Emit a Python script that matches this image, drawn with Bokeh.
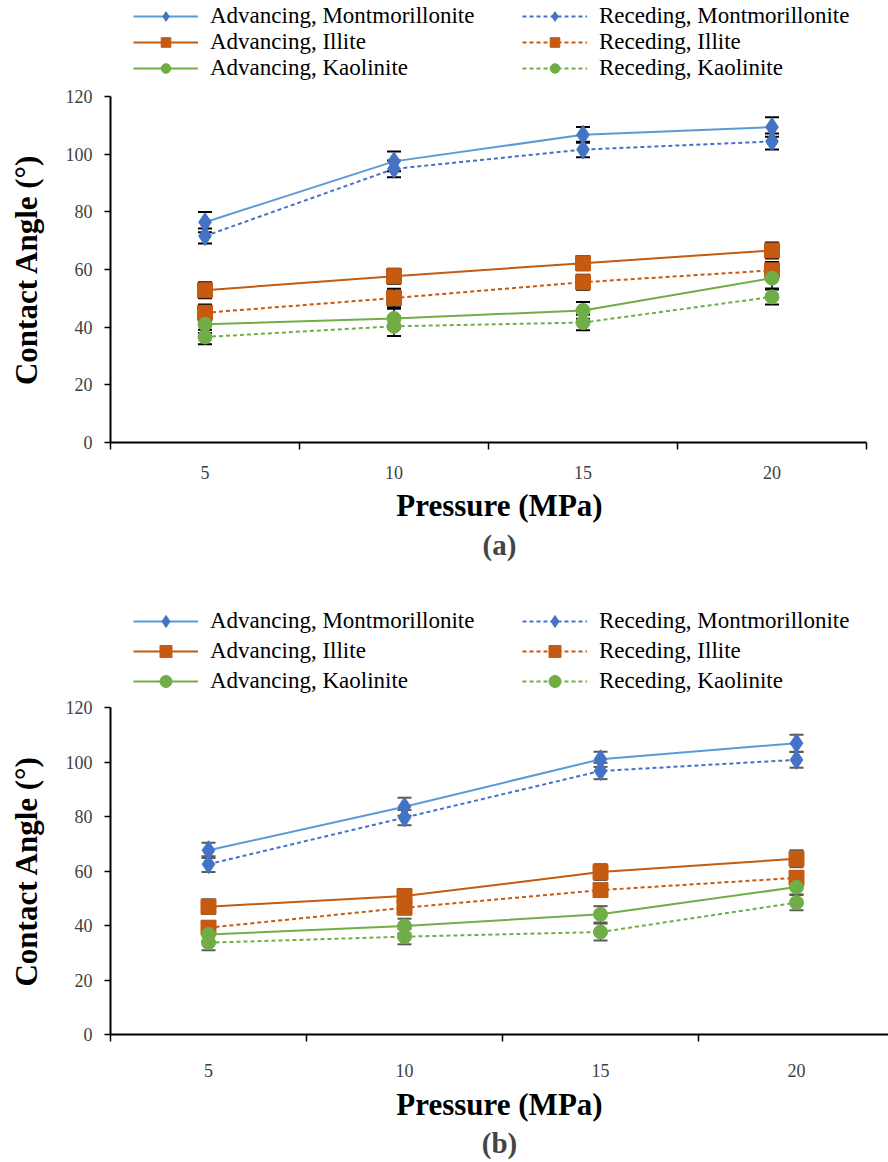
from bokeh.plotting import figure
from bokeh.models import (Range1d, FixedTicker, Legend, LegendItem, Whisker,
                          TeeHead, ColumnDataSource, Title)
from bokeh.layouts import column
from bokeh.embed import file_html
from bokeh.resources import INLINE

# ---------------- data ----------------
pressure_labels = ["5", "10", "15", "20"]
series_names = ["Advancing, Montmorillonite", "Receding, Montmorillonite",
                "Advancing, Illite", "Receding, Illite",
                "Advancing, Kaolinite", "Receding, Kaolinite"]

# panel (a)
a_adv_mont = [76.4, 97.5, 106.7, 109.4]
a_rec_mont = [71.6, 94.9, 101.6, 104.4]
a_adv_illite = [52.8, 57.7, 62.2, 66.6]
a_rec_illite = [45.0, 50.1, 55.6, 59.7]
a_adv_kaol = [41.0, 43.0, 45.8, 57.0]
a_rec_kaol = [36.6, 40.3, 41.6, 50.5]
a_err_adv_mont = [3.5, 3.4, 2.7, 3.4]
a_err_rec_mont = [2.6, 2.9, 2.7, 2.8]
a_err_adv_illite = [2.8, 2.6, 2.5, 2.8]
a_err_rec_illite = [2.9, 3.2, 2.6, 2.9]
a_err_adv_kaol = [3.0, 3.4, 2.9, 3.6]
a_err_rec_kaol = [2.5, 3.4, 2.7, 2.6]

# panel (b)
b_adv_mont = [67.6, 83.6, 101.0, 106.9]
b_rec_mont = [62.5, 79.6, 96.7, 100.8]
b_adv_illite = [46.9, 50.8, 59.6, 64.5]
b_rec_illite = [39.2, 46.5, 53.0, 57.5]
b_adv_kaol = [36.7, 39.8, 44.1, 54.1]
b_rec_kaol = [33.7, 35.9, 37.6, 48.4]
b_err_adv_mont = [2.8, 3.3, 2.8, 3.1]
b_err_rec_mont = [2.9, 2.8, 3.0, 2.9]
b_err_adv_illite = [2.7, 2.5, 2.9, 3.1]
b_err_rec_illite = [2.4, 2.2, 2.2, 2.5]
b_err_adv_kaol = [2.6, 2.7, 3.0, 2.7]
b_err_rec_kaol = [2.8, 2.8, 3.1, 2.8]

panel_a_values = [a_adv_mont, a_rec_mont, a_adv_illite, a_rec_illite, a_adv_kaol, a_rec_kaol]
panel_a_errors = [a_err_adv_mont, a_err_rec_mont, a_err_adv_illite, a_err_rec_illite, a_err_adv_kaol, a_err_rec_kaol]
panel_b_values = [b_adv_mont, b_rec_mont, b_adv_illite, b_rec_illite, b_adv_kaol, b_rec_kaol]
panel_b_errors = [b_err_adv_mont, b_err_rec_mont, b_err_adv_illite, b_err_rec_illite, b_err_adv_kaol, b_err_rec_kaol]

# ---------------- styles ----------------
FONT = "Liberation Serif"
W = 888
BL = 110
line_colors = ["#5B9BD5", "#4472C4", "#C55A11", "#C55A11", "#70AD47", "#70AD47"]
marker_colors = ["#4472C4", "#4472C4", "#C55A11", "#C55A11", "#70AD47", "#70AD47"]
markers = ["diamond", "diamond", "square", "square", "circle", "circle"]
marker_sizes = [19, 19, 15, 15, 14, 14]
dashes = ["solid", "4 3", "solid", "4 3", "solid", "4 3"]


def make_legend_fig(values, height, bottom_offset, pitch):
    x = list(range(1, len(pressure_labels) + 1))
    # y range placed away from the data: the series only feed the legend glyphs here
    lf = figure(width=W, height=height, x_range=Range1d(0, 1), y_range=Range1d(-20, -10),
                output_backend="svg", toolbar_location=None,
                x_axis_location=None, y_axis_location=None,
                min_border_left=BL, min_border_right=0,
                min_border_top=0, min_border_bottom=0)
    lf.xgrid.visible = False
    lf.ygrid.visible = False
    lf.outline_line_color = None
    rs = []
    for i, vals in enumerate(values):
        src = ColumnDataSource(dict(x=x, y=vals))
        lr = lf.line("x", "y", source=src, line_color=line_colors[i],
                     line_width=2, line_dash=dashes[i])
        sr = lf.scatter("x", "y", source=src, marker=markers[i],
                        size=marker_sizes[i], fill_color=marker_colors[i],
                        line_color=marker_colors[i])
        rs.append((lr, sr))
    for col, xloc in ((0, 23), (1, 412)):
        items = [LegendItem(label=series_names[i], renderers=list(rs[i]))
                 for i in range(col, len(series_names), 2)]
        leg = Legend(items=items, location=(xloc, bottom_offset),
                     glyph_width=65, glyph_height=pitch,
                     label_height=pitch, spacing=0, padding=0, margin=0,
                     label_standoff=12, label_text_font=FONT,
                     label_text_font_size="23px", label_text_color="black",
                     label_text_line_height=1.0,
                     border_line_color=None, background_fill_alpha=0)
        lf.add_layout(leg, "center")
    return lf


def make_panel(values, errors, caption, height, frame_top, frame_bottom_pad,
               x_end, x_bound_end, err_color, tick_standoff, label_standoff,
               title_standoff):
    x = list(range(1, len(pressure_labels) + 1))
    p = figure(width=W, height=height,
               x_range=Range1d(0.5, x_end), y_range=Range1d(0, 120),
               output_backend="svg", toolbar_location=None,
               min_border_left=BL, min_border_right=0,
               min_border_top=frame_top, min_border_bottom=frame_bottom_pad)
    p.xgrid.visible = False
    p.ygrid.visible = False
    p.outline_line_color = None

    for i, (vals, errs) in enumerate(zip(values, errors)):
        src = ColumnDataSource(dict(
            x=x, y=vals,
            upper=[v + e for v, e in zip(vals, errs)],
            lower=[v - e for v, e in zip(vals, errs)]))
        w = Whisker(source=src, base="x", upper="upper", lower="lower",
                    dimension="height", line_color=err_color, line_width=1.5,
                    upper_head=TeeHead(size=14, line_color=err_color, line_width=2),
                    lower_head=TeeHead(size=14, line_color=err_color, line_width=2))
        p.add_layout(w)
        p.line("x", "y", source=src, line_color=line_colors[i],
               line_width=2, line_dash=dashes[i])
        p.scatter("x", "y", source=src, marker=markers[i],
                  size=marker_sizes[i], fill_color=marker_colors[i],
                  line_color=marker_colors[i])

    xa = p.xaxis[0]
    minor = [v - 0.5 for v in x] + [x[-1] + 0.5]
    xa.ticker = FixedTicker(ticks=x, minor_ticks=minor)
    xa.bounds = (0.5, x_bound_end)
    xa.major_label_overrides = {xi: lab for xi, lab in zip(x, pressure_labels)}
    xa.major_tick_line_color = None
    xa.major_tick_out = 0
    xa.minor_tick_line_color = "black"
    xa.minor_tick_line_width = 1.5
    xa.minor_tick_out = 7
    xa.minor_tick_in = 0
    xa.axis_line_color = "black"
    xa.axis_line_width = 2
    xa.major_label_standoff = tick_standoff
    xa.major_label_text_font = FONT
    xa.major_label_text_font_size = "18px"
    xa.major_label_text_color = "#404040"
    xa.axis_label = "Pressure (MPa)"
    xa.axis_label_text_font = FONT
    xa.axis_label_text_font_style = "bold"
    xa.axis_label_text_font_size = "31px"
    xa.axis_label_text_color = "black"
    xa.axis_label_standoff = label_standoff

    ya = p.yaxis[0]
    ya.ticker = FixedTicker(ticks=[0, 20, 40, 60, 80, 100, 120])
    ya.minor_tick_line_color = None
    ya.major_tick_out = 6
    ya.major_tick_in = 0
    ya.major_tick_line_color = "black"
    ya.major_tick_line_width = 1.5
    ya.axis_line_color = "black"
    ya.axis_line_width = 2
    ya.major_label_standoff = 12
    ya.major_label_text_font = FONT
    ya.major_label_text_font_size = "18px"
    ya.major_label_text_color = "#404040"
    ya.axis_label = "Contact Angle (°)"
    ya.axis_label_text_font = FONT
    ya.axis_label_text_font_style = "bold"
    ya.axis_label_text_font_size = "31px"
    ya.axis_label_text_color = "black"
    ya.axis_label_standoff = 19

    p.add_layout(Title(text=caption, align="center", text_font=FONT,
                       text_font_style="bold", text_font_size="29px",
                       standoff=title_standoff), "below")
    return p


la = make_legend_fig(panel_a_values, height=84, bottom_offset=3, pitch=24)
pa = make_panel(panel_a_values, panel_a_errors, "(a)", height=499, frame_top=12,
                frame_bottom_pad=141, x_end=0.5 + 778 / 189, x_bound_end=4.5,
                err_color="black", tick_standoff=16, label_standoff=6,
                title_standoff=2)
lb = make_legend_fig(panel_b_values, height=114, bottom_offset=1, pitch=30)
pb = make_panel(panel_b_values, panel_b_errors, "(b)", height=463, frame_top=10,
                frame_bottom_pad=126, x_end=0.5 + 778 / 196, x_bound_end=0.5 + 778 / 196,
                err_color="#595959", tick_standoff=22, label_standoff=7,
                title_standoff=0)

layout = column(la, pa, lb, pb, spacing=0)
open("out.html", "w").write(file_html(layout, INLINE))
